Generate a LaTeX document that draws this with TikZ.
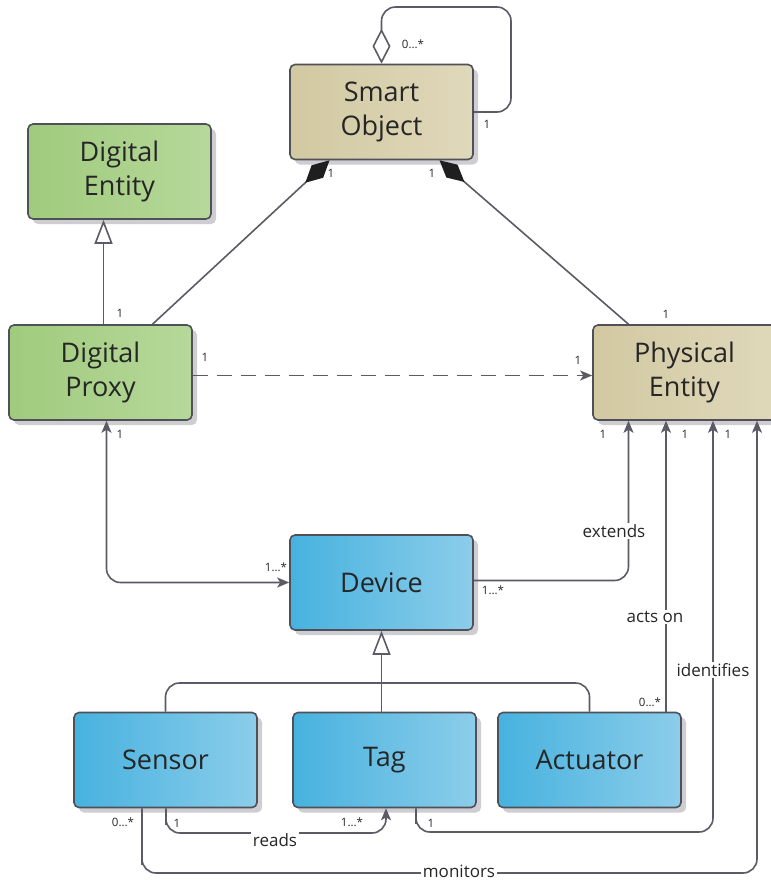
\documentclass[tikz,border=0pt]{standalone}
\usepackage{fontspec}
\setmainfont{Open Sans}
\usetikzlibrary{arrows.meta,shadows,calc}
\definecolor{linec}{HTML}{5B5B65}
\definecolor{boxline}{HTML}{505058}
\definecolor{shadowc}{HTML}{CDCDD2}
\definecolor{greenA}{HTML}{A0CB7D}
\definecolor{greenB}{HTML}{B6D89A}
\definecolor{tanA}{HTML}{D2C9A2}
\definecolor{tanB}{HTML}{DFD8BA}
\definecolor{blueA}{HTML}{47B2DF}
\definecolor{blueB}{HTML}{8CCDEA}
\definecolor{txt}{HTML}{262626}
\begin{document}
\begin{tikzpicture}[x=1pt,y=-1pt,
  box/.style={draw=boxline, line width=1.6pt, rounded corners=5pt,
    minimum width=183pt, minimum height=95pt, align=center, text=txt,
    font=\fontsize{27}{34}\selectfont,
    drop shadow={shadow xshift=5pt, shadow yshift=-5pt, fill=shadowc, opacity=1}},
  greenbox/.style={box, left color=greenA, right color=greenB},
  tanbox/.style={box, left color=tanA, right color=tanB},
  bluebox/.style={box, left color=blueA, right color=blueB},
  conn/.style={draw=linec, line width=1.6pt},
  mult/.style={font=\fontsize{11.5}{13}\selectfont, text=txt, inner sep=1pt},
  lbl/.style={font=\fontsize{17}{20}\selectfont, text=txt, fill=white, inner sep=1.5pt},
  nav/.style={-{Stealth[length=12pt,width=10pt,inset=3pt]}},
  gen/.style={{Triangle[open,length=24pt,width=18pt,fill=white]}-},
  comp/.style={{Diamond[length=33pt,width=17pt,fill=black!88,color=black!88]}-},
  aggr/.style={{Diamond[open,length=35pt,width=18pt,fill=white]}-}
]
\useasboundingbox (0,0) rectangle (771,881);
\clip (0,0) rectangle (771,881);

% nodes
\node[greenbox] (DE) at (119.5,171.5) {Digital\\Entity};
\node[greenbox] (DP) at (100.5,372.5) {Digital\\Proxy};
\node[tanbox] (SO) at (381.5,112) {Smart\\Object};
\node[tanbox] (PE) at (684.5,372.5) {Physical\\Entity};
\node[bluebox] (Dev) at (381.5,582.5) {Device};
\node[bluebox] (Sen) at (165.5,760) {Sensor};
\node[bluebox] (Tag) at (384.5,760) {Tag};
\node[bluebox] (Act) at (589.5,760) {Actuator};

\coordinate (loop) at (511,7);
\coordinate (bar) at (381.5,683);
\coordinate (rd) at (166,833);
\coordinate (idf) at (416,832);
\coordinate (mon) at (142,873);

% self aggregation
\draw[conn, aggr, rounded corners=14pt] (SO.north) |- (loop) |- (SO.east);
% compositions
\draw[conn, comp] ([xshift=-52pt]SO.south) -- ([xshift=52pt]DP.north);
\draw[conn, comp] ([xshift=58pt]SO.south) -- ([xshift=-56pt]PE.north);
% generalization DE
\draw[conn, gen] ([xshift=-16pt]DE.south) -- ([xshift=3pt]DP.north);
% dashed
\draw[conn, nav, dashed, dash pattern=on 15pt off 9pt] ([yshift=-3pt]DP.east) -- ([yshift=-3pt]PE.west);
% DP <-> Device
\draw[conn, rounded corners=14pt, {Stealth[length=12pt,width=10pt,inset=3pt]}-{Stealth[length=12pt,width=10pt,inset=3pt]}]
  ([xshift=6pt]DP.south) |- (Dev.west);
% extends
\draw[conn, nav, rounded corners=14pt] ([yshift=2pt]Dev.east) -| ([xshift=-56pt]PE.south);
% acts on
\draw[conn, nav] ([xshift=76.5pt]Act.north) -- ([xshift=76.5pt]Act.north |- PE.south);
% identifies
\draw[conn, nav, rounded corners=14pt] ([xshift=31.5pt]Tag.south) |- (idf) -| ([xshift=28.5pt]PE.south);
% monitors
\draw[conn, nav, rounded corners=14pt] ([xshift=-23.5pt]Sen.south) |- (mon) -| ([xshift=72.5pt]PE.south);
% reads
\draw[conn, nav, rounded corners=14pt] ([xshift=0.5pt]Sen.south) |- (rd) -| ([xshift=1.5pt]Tag.south);
% generalization Device
\draw[conn, gen] (Dev.south) -- (Dev.south |- Tag.north);
\draw[conn, rounded corners=14pt] (Sen.north) |- (bar) -| (Act.north);

% connector labels
\node[lbl] at (614,531) {extends};
\node[lbl] at (655,617) {acts on};
\node[lbl] at (713,670) {identifies};
\node[lbl] at (275,840) {reads};
\node[lbl] at (459,871) {monitors};

% multiplicities
\node[mult] at (413,44) {0...*};
\node[mult] at (487,124) {1};
\node[mult] at (331,173) {1};
\node[mult] at (432,173) {1};
\node[mult] at (120,313) {1};
\node[mult] at (666,314) {1};
\node[mult] at (205,357) {1};
\node[mult] at (578,360) {1};
\node[mult] at (120,434) {1};
\node[mult] at (603,434) {1};
\node[mult] at (685,434) {1};
\node[mult] at (728,434) {1};
\node[mult] at (276,567) {1...*};
\node[mult] at (493,590) {1...*};
\node[mult] at (650,702) {0...*};
\node[mult] at (123,822) {0...*};
\node[mult] at (177,823) {1};
\node[mult] at (352,822) {1...*};
\node[mult] at (431,823) {1};
\end{tikzpicture}
\end{document}
